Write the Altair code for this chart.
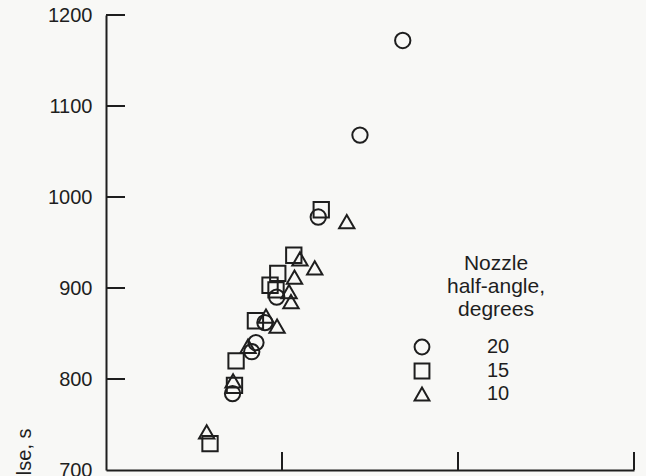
import altair as alt
import pandas as pd

# Nozzle half-angle 20 deg (circles)
circle_x = [1.686, 1.443, 1.206, 0.970, 0.903, 0.852, 0.828, 0.719]
circle_y = [1172, 1068, 978, 890, 862, 840, 830, 784]
# 15 deg (squares)
square_x = [1.223, 1.067, 0.976, 0.932, 0.966, 0.849, 0.739, 0.730, 0.591]
square_y = [986, 936, 916, 903, 898, 864, 820, 793, 729]
# 10 deg (triangles)
tri_x = [1.368, 1.186, 1.102, 1.071, 1.040, 1.051, 0.972, 0.909, 0.807, 0.722, 0.572]
tri_y = [973, 922, 932, 912, 896, 885, 858, 869, 836, 798, 742]

angles = ["20", "15", "10"]
shapes = ["circle", "square", "triangle-up"]
legend_title = "Nozzle\nhalf-angle,\ndegrees"
y_title = "Specific impulse, s"
y_ticks = [700, 800, 900, 1000, 1100, 1200]
x_ticks = [1, 2, 3]

rows = []
for a, xs, ys in zip(angles, [circle_x, square_x, tri_x], [circle_y, square_y, tri_y]):
    for x, y in zip(xs, ys):
        rows.append({"x": x, "y": y, "angle": a})
df = pd.DataFrame(rows)

INK = "#1e1e1e"
FONT = "Liberation Sans"
W, H = 528, 455

xscale = alt.Scale(domain=[0, 3], nice=False, zero=False)
yscale = alt.Scale(domain=[700, 1200], nice=False, zero=False)

points = alt.Chart(df).mark_point(
    filled=False, strokeWidth=2, size=235, color=INK, opacity=1
).encode(
    x=alt.X("x:Q", scale=xscale,
            axis=alt.Axis(title=None, labels=False, ticks=False, grid=False,
                          domainColor=INK, domainWidth=2)),
    y=alt.Y("y:Q", scale=yscale,
            axis=alt.Axis(values=y_ticks, format="d", title=y_title, grid=False,
                          ticks=False, tickSize=0, labelPadding=14,
                          labelFontSize=20, labelColor=INK, labelFont=FONT,
                          domainColor=INK, domainWidth=2,
                          titleFontSize=20, titleFont=FONT, titleColor=INK,
                          titleFontWeight="normal", titleAngle=270,
                          titleAlign="right", titleBaseline="alphabetic",
                          titleX=-76, titleY=413)),
    shape=alt.Shape("angle:N",
                    scale=alt.Scale(domain=angles, range=shapes),
                    legend=alt.Legend(
                        title=None,
                        orient="none", legendX=306, legendY=322,
                        labelFontSize=20, labelFont=FONT, labelColor=INK,
                        labelOffset=55, rowPadding=0,
                        symbolSize=220, symbolStrokeWidth=2,
                        symbolStrokeColor=INK, symbolFillColor="transparent")),
)

title_df = pd.DataFrame({"t": [legend_title]})
leg_title = alt.Chart(title_df).mark_text(
    lineBreak="\n", align="center", baseline="alphabetic",
    fontSize=21, lineHeight=23, font=FONT, color=INK
).encode(text="t:N", x=alt.value(390), y=alt.value(255))

ytick_df = pd.DataFrame({"v": y_ticks[1:]})
yticks = alt.Chart(ytick_df).mark_rule(color=INK, strokeWidth=2).encode(
    y=alt.Y("v:Q", scale=yscale), x=alt.value(0), x2=alt.value(19)
)
xtick_df = pd.DataFrame({"v": x_ticks})
xticks = alt.Chart(xtick_df).mark_rule(color=INK, strokeWidth=2).encode(
    x=alt.X("v:Q", scale=xscale), y=alt.value(H), y2=alt.value(H - 18)
)

chart = alt.layer(yticks, xticks, points, leg_title).properties(
    width=W, height=H,
    autosize=alt.AutoSizeParams(type="none"),
    padding={"left": 106, "top": 15, "right": 12, "bottom": 6},
    background="#f8f8f6",
).configure_view(stroke=None)

chart.save("out.html", embed_options={"renderer": "svg", "actions": False})
